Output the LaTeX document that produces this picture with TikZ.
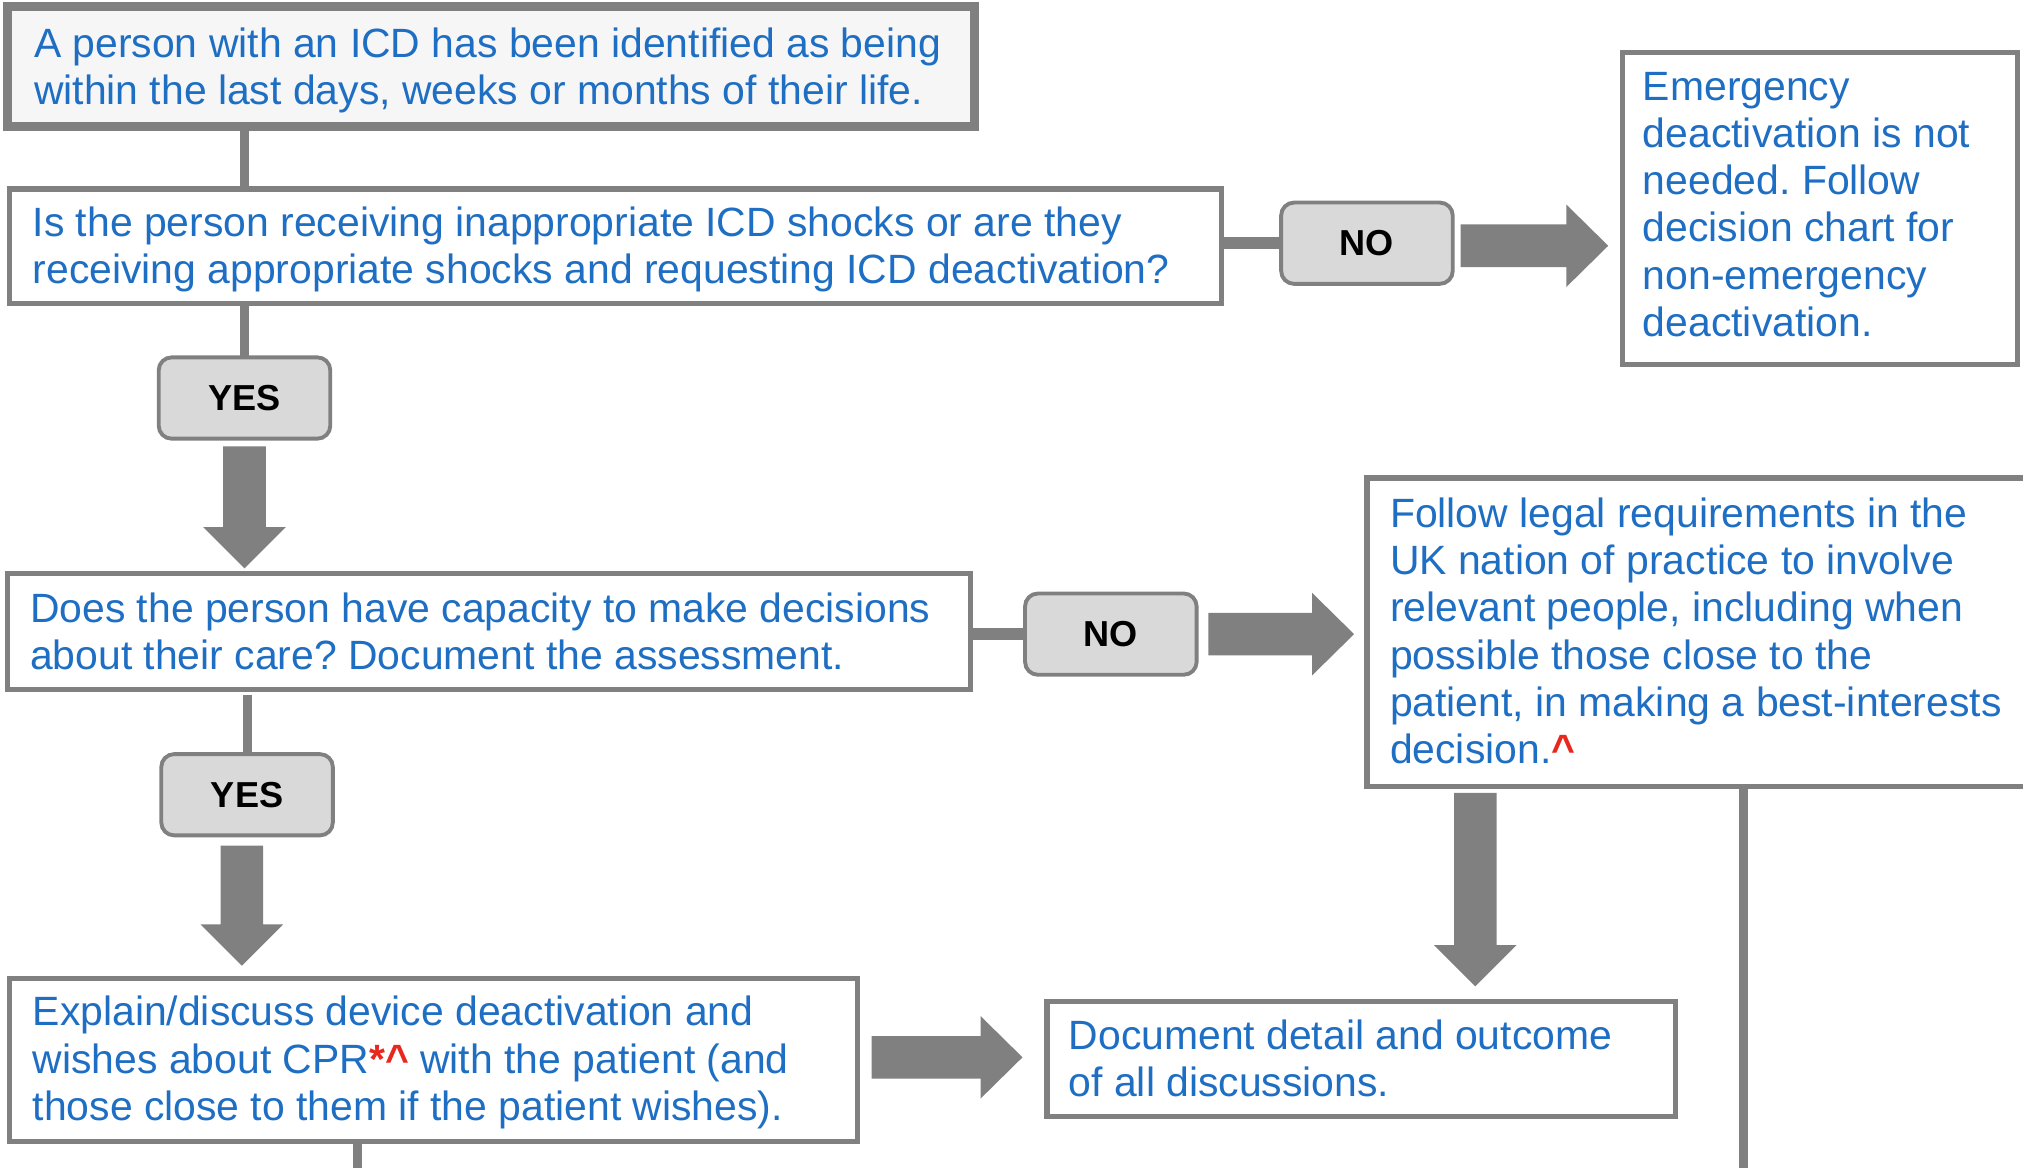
\documentclass[tikz,border=0pt]{standalone}
\usepackage{fontspec}
\setmainfont{Liberation Sans}
\usetikzlibrary{calc}
\frenchspacing

\definecolor{txtblue}{RGB}{30,110,195}
\definecolor{linegray}{RGB}{128,128,128}
\definecolor{pillgray}{RGB}{217,217,217}
\definecolor{paleback}{RGB}{246,246,246}
\definecolor{notered}{RGB}{232,40,30}

% filled block arrow pointing right: #1 = tail point, #2 = tip point
\newcommand\blockright[2]{%
  \fill[linegray] let \p1=(#1), \p2=(#2) in
    (\x1,\y1+8.25pt) -- (\x2-16.25pt,\y1+8.25pt) -- (\x2-16.25pt,\y1+16pt) --
    (\x2,\y1) -- (\x2-16.25pt,\y1-16pt) -- (\x2-16.25pt,\y1-8.25pt) --
    (\x1,\y1-8.25pt) -- cycle;}
% filled block arrow pointing down: #1 = tail point, #2 = tip point
\newcommand\blockdown[2]{%
  \fill[linegray] let \p1=(#1), \p2=(#2) in
    (\x1-8.25pt,\y1) -- (\x1-8.25pt,\y2+16pt) -- (\x1-16pt,\y2+16pt) --
    (\x1,\y2) -- (\x1+16pt,\y2+16pt) -- (\x1+8.25pt,\y2+16pt) --
    (\x1+8.25pt,\y1) -- cycle;}
\newcommand\notemark[1]{{\bfseries\color{notered}#1}}

\begin{document}
\begin{tikzpicture}[x=0.5pt,y=-0.5pt,
  box/.style={rectangle, draw=linegray, line width=2pt, fill=white,
    inner sep=0pt, outer sep=0pt, anchor=north west},
  txt/.style={anchor=west, inner sep=0pt, align=left, text=txtblue,
    font=\fontsize{15.85}{18.25}\selectfont},
  pill/.style={rectangle, draw=linegray, line width=1.5pt, fill=pillgray,
    rounded corners=5pt, minimum width=66.5pt, minimum height=31.5pt,
    inner sep=0pt, outer sep=0pt, font=\fontsize{14}{16}\selectfont\bfseries},
  conn/.style={draw=linegray, line width=3.5pt},
  hconn/.style={draw=linegray, line width=4.5pt}]

\useasboundingbox (0,0) rectangle (1568,905);

% ---- boxes (sizes in pt) ----
\node[box, line width=3.5pt, fill=paleback, minimum width=374.5pt, minimum height=46.5pt] (b1) at (6,5) {};
\node[txt] (t1) at ($(b1.west)+(20,3)$)
  {A person with an ICD has been identified as being\\within the last days, weeks or months of their life.};

\node[box, minimum width=469.5pt, minimum height=44.5pt] (b2) at (7.5,146.5) {};
\node[txt] (t2) at ($(b2.west)+(17.5,2)$)
  {Is the person receiving inappropriate ICD shocks or are they\\receiving appropriate shocks and requesting ICD deactivation?};

\node[box, minimum width=153pt, minimum height=121pt] (em) at (1257.5,40.5) {};
\node[txt] (tem) at ($(em.west)+(15.5,-3)$)
  {Emergency\\deactivation is not\\needed. Follow\\decision chart for\\non-emergency\\deactivation.};

\node[box, minimum width=373.5pt, minimum height=45pt] (b3) at (5.5,444.5) {};
\node[txt] (t3) at ($(b3.west)+(17.5,0)$)
  {Does the person have capacity to make decisions\\about their care? Document the assessment.};

\node[box, minimum width=260pt, minimum height=119.5pt] (b4) at (1059.5,370.5) {};
\node[txt] (t4) at ($(b4.west)+(17.5,-1)$)
  {Follow legal requirements in the\\UK nation of practice to involve\\relevant people, including when\\possible those close to the\\patient, in making a best-interests\\decision.\notemark{\textasciicircum}};

\node[box, minimum width=243.5pt, minimum height=44.5pt] (b5) at (811.5,776.5) {};
\node[txt] (t5) at ($(b5.west)+(16.5,-1)$)
  {Document detail and outcome\\of all discussions.};

\node[box, minimum width=328.5pt, minimum height=63pt] (b6) at (7.5,758.5) {};
\node[txt] (t6) at ($(b6.west)+(17.5,2)$)
  {Explain/discuss device deactivation and\\wishes about CPR\notemark{*\textasciicircum} with the patient (and\\those close to them if the patient wishes).};

% ---- yes / no labels ----
\node[pill] (no1) at (1059.5,188.5) {NO};
\node[pill] (yes1) at (189.5,308.5) {YES};
\node[pill] (no2) at (861,491.5) {NO};
\node[pill] (yes2) at (191.5,616) {YES};

% ---- plain connectors ----
\draw[conn] (b1.south -| yes1.north) -- (b2.north -| yes1.north);
\draw[conn] (yes1.north |- b2.south) -- (yes1.north);
\draw[hconn] (no1.west -| b2.east) -- (no1.west);
\draw[conn] ($(yes2.north |- b3.south)+(0,4)$) -- (yes2.north);
\draw[hconn] (no2.west -| b3.east) -- (no2.west);

\coordinate (end4) at (1351,910);
\draw[conn] (end4 |- b4.south) -- (end4);
\coordinate (end6) at (277,910);
\draw[conn] (end6 |- b6.south) -- (end6);

% ---- block arrows ----
\blockright{$(no1.east)+(6,2)$}{$(em.west |- no1.east)+(-11,2)$}
\blockdown{$(yes1.south)+(0,6)$}{$(yes1.south |- b3.north)+(0,-4)$}
\blockright{$(no2.east)+(9,0)$}{$(b4.west |- no2.east)+(-10,0)$}
\coordinate (a3) at (1143.5,0);
\blockdown{$(a3 |- b4.south)+(0,5)$}{$(a3 |- b5.north)+(0,-12)$}
\blockdown{$(yes2.south)+(-4,8)$}{$(yes2.south |- b6.north)+(-4,-10)$}
\blockright{$(b6.east)+(11,-2)$}{$(b5.west |- b6.east)+(-19,-2)$}

\end{tikzpicture}
\end{document}
